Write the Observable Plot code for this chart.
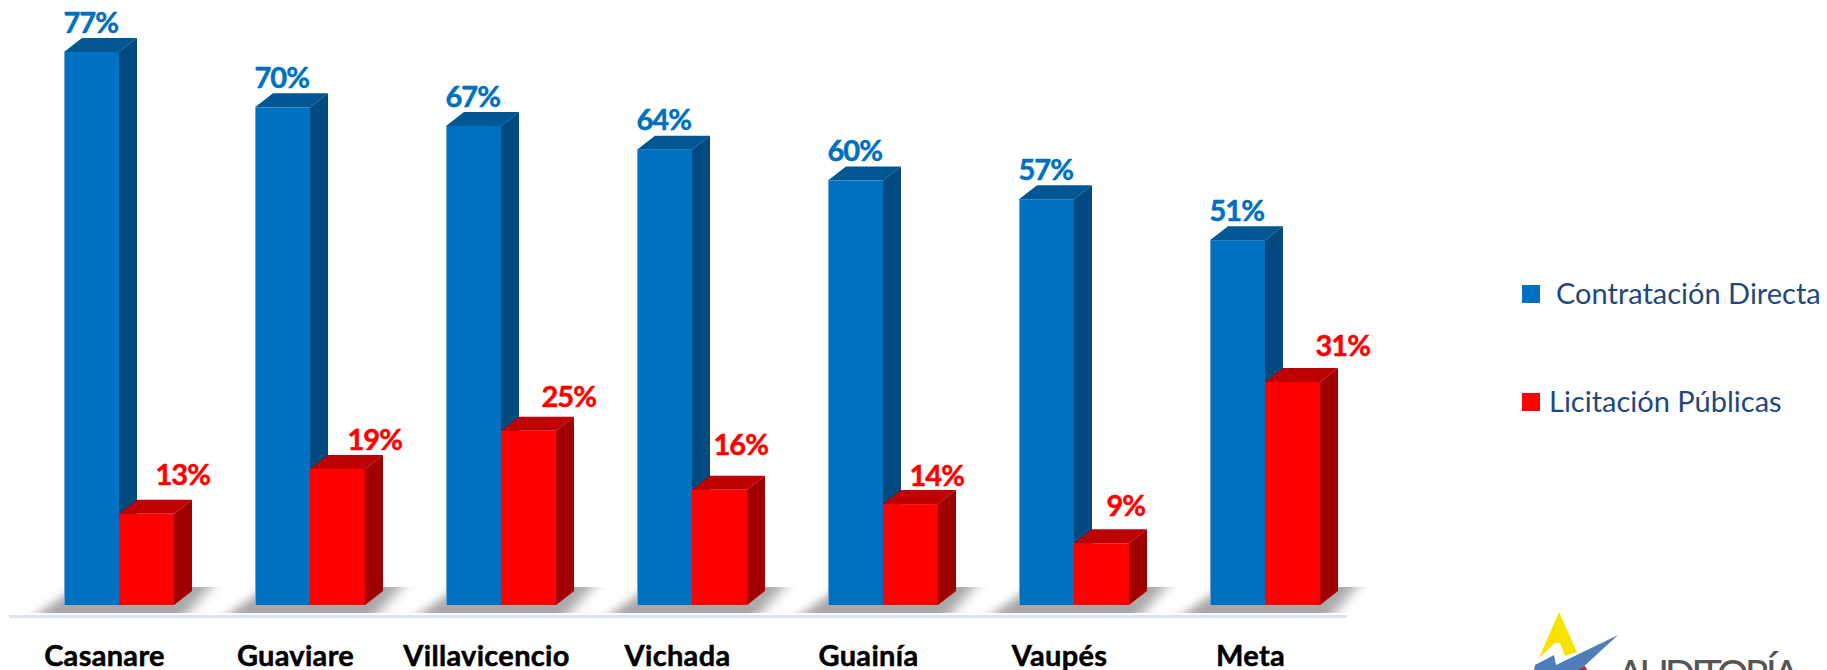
<!DOCTYPE html>
<html><head><meta charset="utf-8">
<script src="https://cdn.jsdelivr.net/npm/d3@7"></script>
<script src="https://cdn.jsdelivr.net/npm/@observablehq/plot@0.6"></script>
<style>
html,body{margin:0;padding:0;background:#fff;overflow:hidden}
#wrap{position:relative;width:1827px;height:670px;font-family:Lato,sans-serif}
#wrap>svg{position:absolute;left:0;top:0}
#wrap g[aria-label="text"]{letter-spacing:-1px}
#wrap g[aria-label="x-axis tick label"]{letter-spacing:.3px;stroke:#000;stroke-width:.5px}
.leg{position:absolute;color:#1F497D;font-size:29px;line-height:29px;white-space:nowrap}
.sw{position:absolute;width:18px;height:18px}
</style></head><body><div id="wrap">
<div class="sw" style="left:1522px;top:285px;background:#0070C0"></div>
<div class="leg" id="l1" style="left:1556px;top:278px">Contratación Directa</div>
<div class="sw" style="left:1522px;top:393px;background:#FF0000"></div>
<div class="leg" id="l2" style="left:1549px;top:386px">Licitación Públicas</div>
</div>
<script>
const departamentos = ["Casanare","Guaviare","Villavicencio","Vichada","Guainía","Vaupés","Meta"];
const contratacionDirecta = [77.0,69.3,66.7,63.4,59.1,56.5,50.8];
const licitacionPublicas = [12.7,18.95,24.25,16.05,14.05,8.6,31.05];
const etiquetasDirecta = ["77%","70%","67%","64%","60%","57%","51%"];
const etiquetasLicitacion = ["13%","19%","25%","16%","14%","9%","31%"];

const directa = departamentos.map((d,i)=>({d,v:contratacionDirecta[i],t:etiquetasDirecta[i]}));
const licitacion = departamentos.map((d,i)=>({d,v:licitacionPublicas[i],t:etiquetasLicitacion[i]}));

// label placement (hand-placed in the original)
const redDx=[36,37,40,21,26,32,50], redDy=[-15,-5,-10,-21,-4,-13,-12];
const depth=[18,14];

function faces(rows,left,top,side){
  return (index,{x,y})=>{
    const g=d3.create("svg:g");
    const bw=x.bandwidth()/2, [dx,dy]=depth;
    for(const r of rows){
      const x0=x(r.d)+(left?0:bw), x1=x0+bw, yt=y(r.v), yb=y(0);
      g.append("polygon").attr("fill",top)
        .attr("points",`${x0},${yt} ${x0+dx},${yt-dy} ${x1+dx},${yt-dy} ${x1},${yt}`);
      g.append("polygon").attr("fill",side)
        .attr("points",`${x1},${yt} ${x1+dx},${yt-dy} ${x1+dx},${yb-dy} ${x1},${yb}`);
    }
    return g.node();
  };
}
function shadows(index,{x,y}){
  const g=d3.create("svg:g");
  const f=g.append("defs").append("filter").attr("id","sh")
    .attr("x","-30%").attr("width","160%").attr("y","0%").attr("height","100%");
  f.append("feGaussianBlur").attr("stdDeviation","8 0");
  const yb=y(0);
  for(const d of departamentos){
    const x0=x(d), x1=x0+x.bandwidth();
    g.append("polygon").attr("fill","#a8a8a8").attr("filter","url(#sh)")
      .attr("points",`${x0-25},${yb+8} ${x0+12},${yb-18} ${x1+36},${yb-18} ${x1+14},${yb+8}`);
  }
  return g.node();
}
const bandW=110;
const chart=Plot.plot({
  width:1827,height:670,marginLeft:9,marginRight:480,marginTop:0,marginBottom:65,
  style:{fontFamily:"Lato,sans-serif",background:"transparent",overflow:"visible"},
  x:{type:"band",domain:departamentos,range:[64,1320],paddingInner:81/191,paddingOuter:0,round:false,axis:null,label:null},
  y:{domain:[0,77],range:[605,52],axis:null,label:null},
  marks:[
    shadows,
    Plot.ruleY([0],{dy:11,stroke:"#D9E3F3",strokeWidth:3}),
    faces(directa,true,"#005793","#004A80"),
    Plot.barY(directa,{x:"d",y:"v",fill:"#0070C0",insetRight:bandW/2}),
    Plot.ruleX(directa,{x:"d",y1:0,y2:"v",dx:-55,stroke:"#6FA3D3"}),
    faces(licitacion,false,"#BF0000","#A00000"),
    Plot.barY(licitacion,{x:"d",y:"v",fill:"#FF0000",insetLeft:bandW/2}),
    Plot.text(directa,{x:"d",y:"v",text:"t",dx:-56,dy:-29,textAnchor:"start",fill:"#0070C0",stroke:"#0070C0",strokeWidth:.5,fontSize:29,fontWeight:700}),
    ...licitacion.map((r,i)=>Plot.text([r],{x:"d",y:"v",text:"t",dx:redDx[i],dy:redDy[i]-24,textAnchor:"start",fill:"#FF0000",stroke:"#FF0000",strokeWidth:.5,fontSize:29,fontWeight:700})),
    Plot.axisX({anchor:"bottom",tickSize:0,tickPadding:40,dx:-15,fontSize:29,fontWeight:700,fill:"#000",label:null})
  ]
});
document.getElementById("wrap").prepend(chart);

// logo, partly cut by the page edge
const logo=d3.select("#wrap").append("svg").attr("width",1827).attr("height",670).style("pointer-events","none");
logo.append("polygon").attr("fill","#F7E300").attr("points","1559,612 1577,652 1565,656 1560,643 1555,643 1539,658");
logo.append("polygon").attr("fill","#4F7DBA").attr("points","1618,635 1556,665 1554,655 1535,665 1534,670 1580,670");
logo.append("polygon").attr("fill","#C8202A").attr("points","1578,670 1585,666 1587,670");
logo.append("text").text("AUDITORÍA").attr("x",1617).attr("y",689).attr("fill","#555").attr("font-family","Lato").attr("font-size",40).attr("textLength",183);
</script></body></html>
